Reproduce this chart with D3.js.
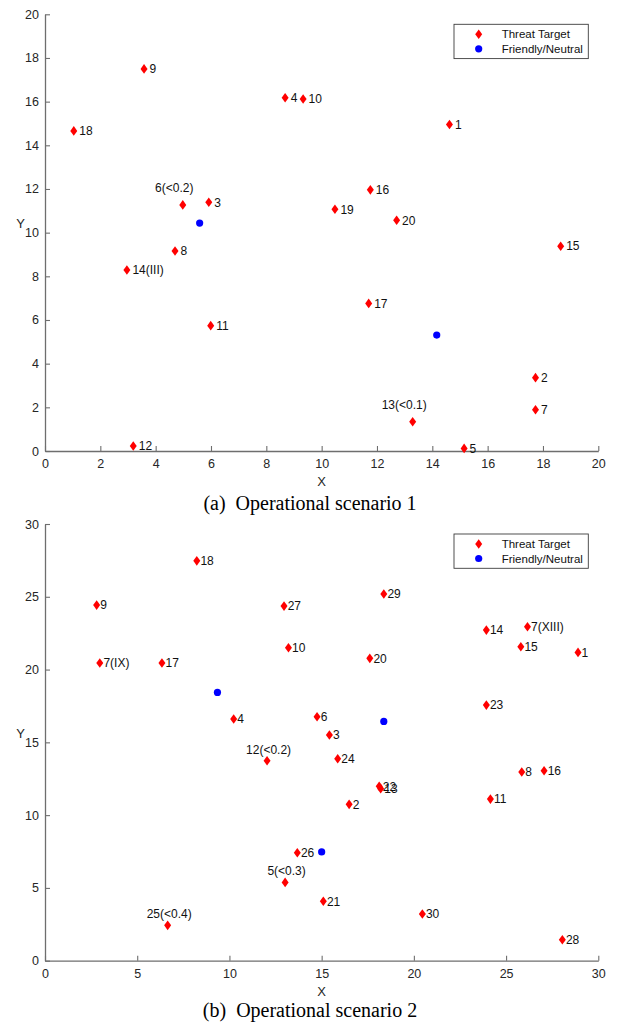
<!DOCTYPE html>
<html>
<head>
<meta charset="utf-8">
<script src="https://cdn.jsdelivr.net/npm/d3@7"></script>
<style>
body{margin:0;background:#fff;}
text{font-family:"Liberation Sans",Arial,Helvetica,sans-serif;}
.caption{font-family:"Liberation Serif","Times New Roman",serif;}
</style>
</head>
<body>
<svg id="fig" width="618" height="1022"></svg>
<script>
// scenario 1 data
const s1Ids = ["1","2","3","4","5","6(<0.2)","7","8","9","10","11","12","13(<0.1)","14(III)","15","16","17","18","19","20"];
const s1X   = [14.62,17.73,5.92,8.68,15.15,4.98,17.73,4.70,3.58,9.33,5.99,3.19,13.29,2.96,18.64,11.76,11.70,1.04,10.48,12.71];
const s1Y   = [14.95,3.36,11.39,16.18,0.12,11.27,1.89,9.16,17.50,16.12,5.74,0.23,1.34,8.29,9.38,11.96,6.76,14.66,11.07,10.57];
const s1FriendX = [5.59,14.16];
const s1FriendY = [10.44,5.31];
const s1Ticks = [0,2,4,6,8,10,12,14,16,18,20];

// scenario 2 data
const s2Ids = ["1","2","3","4","5(<0.3)","6","7(XIII)","7(IX)","8","9","10","11","12(<0.2)","13","14","15","16","17","18","20","21","22","23","24","25(<0.4)","26","27","28","29","30"];
const s2X   = [28.90,16.49,15.42,10.23,13.02,14.75,26.16,2.97,25.85,2.80,13.20,24.15,12.04,18.20,23.93,25.80,27.06,6.34,8.23,17.61,15.09,18.12,23.93,15.87,6.65,13.68,12.96,28.05,18.37,20.46];
const s2Y   = [21.18,10.74,15.50,16.60,5.38,16.76,22.94,20.45,12.96,24.43,21.50,11.10,13.74,11.82,22.71,21.57,13.05,20.45,27.47,20.77,4.08,11.98,17.56,13.87,2.43,7.42,24.36,1.44,25.19,3.21];
const s2FriendX = [9.35,18.37,15.00];
const s2FriendY = [18.43,16.44,7.47];
const s2Ticks = [0,5,10,15,20,25,30];

const legendNames = ["Threat Target","Friendly/Neutral"];

var svg = d3.select("#fig");
var axisColor = "#6e6e6e", textColor = "#262626";
var diamond = "M0,-4.8L3.5,0L0,4.8L-3.5,0Z";

function drawScenario(o){
	var g = svg.append("g").attr("class","scenario");
	var xScale = d3.scaleLinear().domain([0,o.max]).range([o.left,o.right]);
	var yScale = d3.scaleLinear().domain([0,o.max]).range([o.bottom,o.top]);

	var xa = g.append("g")
		.attr("transform","translate(0,"+o.bottom+")")
		.call(d3.axisBottom(xScale).tickValues(o.ticks).tickSizeInner(-5).tickSizeOuter(0).tickPadding(8));
	var ya = g.append("g")
		.attr("transform","translate("+o.left+",0)")
		.call(d3.axisLeft(yScale).tickValues(o.ticks).tickSizeInner(-5).tickSizeOuter(0).tickPadding(6));
	for (var a of [xa,ya]){
		a.select(".domain").attr("stroke",axisColor).attr("stroke-width",1.3);
		a.selectAll(".tick line").attr("stroke",axisColor).attr("stroke-width",1.1);
		a.selectAll(".tick text").attr("fill",textColor).style("font-size","12.5px");
	}

	g.append("text").attr("x",(o.left+o.right)/2).attr("y",o.bottom+35)
		.attr("text-anchor","middle").style("font-size","13px").attr("fill",textColor).text("X");
	g.append("text").attr("x",20.5).attr("y",yScale(o.max/2)-4.2)
		.attr("text-anchor","middle").style("font-size","13px").attr("fill",textColor).text("Y");

	var pts = o.ids.map(function(d,i){ return {id:d, x:o.xs[i], y:o.ys[i]}; });

	g.append("g").selectAll("path").data(pts).enter().append("path")
		.attr("d",diamond).attr("fill","#ff0000")
		.attr("transform",function(d){ return "translate("+xScale(d.x)+","+yScale(d.y)+")"; });

	g.append("g").selectAll("circle").data(o.fx).enter().append("circle")
		.attr("cx",function(d){ return xScale(d); })
		.attr("cy",function(d,i){ return yScale(o.fy[i]); })
		.attr("r",3.6).attr("fill","#0000ff");

	// labels with a "(<" note sit above the marker, the rest on the right
	g.append("g").selectAll("text").data(pts).enter().append("text")
		.attr("x",function(d){ return xScale(d.x) + (d.id.indexOf("(<")>=0 ? o.aboveDx : o.rightDx); })
		.attr("y",function(d){ return yScale(d.y) + (d.id.indexOf("(<")>=0 ? o.aboveDy : 4.3); })
		.attr("text-anchor",function(d){ return d.id.indexOf("(<")>=0 ? "middle" : "start"; })
		.style("font-size","12px").attr("fill","#111")
		.text(function(d){ return d.id; });

	// legend
	var lg = g.append("g").attr("class","legend");
	lg.append("rect").attr("x",454).attr("y",o.legendTop).attr("width",134.3).attr("height",34.3)
		.attr("fill","#fff").attr("stroke","#3c3c3c").attr("stroke-width",0.9);
	lg.append("path").attr("d",diamond).attr("fill","#ff0000")
		.attr("transform","translate(478.7,"+(o.legendTop+10)+")");
	lg.append("circle").attr("cx",478.7).attr("cy",o.legendTop+24.5).attr("r",3.6).attr("fill","#0000ff");
	lg.selectAll("text").data(legendNames).enter().append("text")
		.attr("x",501.7).attr("y",function(d,i){ return o.legendTop+14+i*14.5; })
		.style("font-size","11.5px").attr("fill","#111").text(function(d){ return d; });

	svg.append("text").attr("class","caption").attr("x",310).attr("y",o.captionY)
		.attr("text-anchor","middle").style("font-size","20px").attr("fill","#000")
		.attr("xml:space","preserve").text(o.caption);
}

drawScenario({ids:s1Ids, xs:s1X, ys:s1Y, fx:s1FriendX, fy:s1FriendY, ticks:s1Ticks, max:20,
	left:45, right:598.3, top:14.3, bottom:451, rightDx:5.5, aboveDx:-8.5, aboveDy:-13,
	legendTop:24.3, caption:"(a)  Operational scenario 1", captionY:510});

drawScenario({ids:s2Ids, xs:s2X, ys:s2Y, fx:s2FriendX, fy:s2FriendY, ticks:s2Ticks, max:30,
	left:45, right:598.3, top:524, bottom:960.7, rightDx:3.6, aboveDx:1.5, aboveDy:-7,
	legendTop:534, caption:"(b)  Operational scenario 2", captionY:1017});
</script>
</body>
</html>
